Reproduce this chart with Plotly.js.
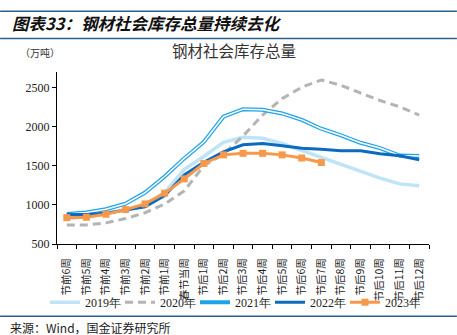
<!DOCTYPE html>
<html><head><meta charset="utf-8">
<script src="https://cdn.plot.ly/plotly-3.0.1.min.js"></script>
<style>html,body{margin:0;padding:0;background:#fff;}#c{width:457px;height:335px;}</style>
</head><body><div id="c"></div>
<script>
const categories = ['节前6周','节前5周','节前4周','节前3周','节前2周','节前1周','春节当周','节后1周','节后2周','节后3周','节后4周','节后5周','节后6周','节后7周','节后8周','节后9周','节后10周','节后11周','节后12周'];
const y2019 = [825, 848, 890, 945, 1000, 1160, 1455, 1620, 1800, 1865, 1852, 1785, 1696, 1606, 1521, 1436, 1342, 1269, 1244];
const y2020 = [744, 744, 770, 825, 900, 1010, 1180, 1500, 1650, 1880, 2150, 2360, 2505, 2598, 2530, 2430, 2335, 2255, 2148];
const y2021 = [885, 903, 945, 1015, 1158, 1363, 1595, 1805, 2128, 2225, 2218, 2170, 2088, 1974, 1890, 1795, 1727, 1632, 1625];
const y2022 = [876, 878, 893, 930, 975, 1120, 1385, 1545, 1680, 1769, 1786, 1756, 1726, 1713, 1692, 1692, 1654, 1628, 1577];
const y2023 = [837, 842, 881, 940, 1013, 1150, 1333, 1530, 1640, 1660, 1660, 1640, 1600, 1542];
const yTicks = [500, 1000, 1500, 2000, 2500];

const CJK = '"Noto Sans CJK SC", "Noto Sans", sans-serif';
const SERIF = '"Liberation Serif", "DejaVu Serif", serif';

const traces = [
  {x: categories, y: y2019, name: '2019年', mode: 'lines', line: {color: '#bfe4f8', width: 3.5}},
  {x: categories, y: y2020, name: '2020年', mode: 'lines', line: {color: '#b4b4b4', width: 3, dash: '8px,5px'}},
  {x: categories, y: y2021, name: '2021年', mode: 'lines', line: {color: '#1fa3e6', width: 4}},
  {x: categories, y: y2021, name: '2021年', mode: 'lines', line: {color: '#ffffff', width: 1.5}, showlegend: false, hoverinfo: 'skip'},
  {x: categories, y: y2022, name: '2022年', mode: 'lines', line: {color: '#0b6cbf', width: 3}},
  {x: categories.slice(0, y2023.length), y: y2023, name: '2023年', mode: 'lines+markers', line: {color: '#f7984a', width: 3}, marker: {symbol: 'square', size: 7, color: '#f7984a'}}
];

const layout = {
  width: 457, height: 335,
  margin: {l: 57, r: 28, t: 72, b: 91},
  paper_bgcolor: '#fff', plot_bgcolor: '#fff',
  showlegend: true,
  legend: {orientation: 'h', x: (45-57)/372, xanchor: 'left', y: (244-302)/171.5, yanchor: 'middle',
           font: {family: SERIF, size: 12, color: '#222'}, itemwidth: 30, entrywidth: 30, entrywidthmode: 'pixels',
           tracegroupgap: 0, bgcolor: 'rgba(0,0,0,0)'},
  xaxis: {type: 'category', tickangle: -90, tickson: 'boundaries', ticks: 'outside', ticklen: 4, tickcolor: '#000',
          showline: true, linecolor: '#000', linewidth: 1, showgrid: false, zeroline: false, ticklabelstandoff: 9,
          tickfont: {family: CJK, size: 10.5, color: '#222'}, range: [-0.5, 18.5]},
  yaxis: {range: [500, 2700], tickvals: yTicks, ticktext: yTicks.map(String), ticks: 'outside', ticklen: 4, tickcolor: '#000',
          showline: true, linecolor: '#000', linewidth: 1, showgrid: false, zeroline: false,
          tickfont: {family: SERIF, size: 12, color: '#222'}},
  shapes: [
    {type: 'line', xref: 'paper', yref: 'paper', x0: -0.153, x1: 1.075, y0: (244-12)/171.5, y1: (244-12)/171.5, line: {color: '#2b5f8c', width: 1.5}},
    {type: 'line', xref: 'paper', yref: 'paper', x0: -0.153, x1: 1.075, y0: (244-39)/171.5, y1: (244-39)/171.5, line: {color: '#2b5f8c', width: 1.5}},
    {type: 'line', xref: 'paper', yref: 'paper', x0: -0.153, x1: 1.075, y0: (244-316)/171.5, y1: (244-316)/171.5, line: {color: '#2b5f8c', width: 1.5}}
  ],
  annotations: [
    {text: '<b><i>图表33：钢材社会库存总量持续去化</i></b>', xref: 'paper', yref: 'paper', x: (10-57)/372, y: (244-24)/171.5, xanchor: 'left', yanchor: 'middle', showarrow: false, font: {family: CJK, size: 16.5, color: '#111'}},
    {text: '钢材社会库存总量', xref: 'paper', yref: 'paper', x: (234-57)/372, y: (244-51)/171.5, xanchor: 'center', yanchor: 'middle', showarrow: false, font: {family: CJK, size: 15.5, color: '#333'}},
    {text: '（万吨）', xref: 'paper', yref: 'paper', x: (40-57)/372, y: (244-53)/171.5, xanchor: 'center', yanchor: 'middle', showarrow: false, font: {family: CJK, size: 10, color: '#333'}},
    {text: '来源：Wind，国金证券研究所', xref: 'paper', yref: 'paper', x: (8-57)/372, y: (244-327)/171.5, xanchor: 'left', yanchor: 'middle', showarrow: false, font: {family: CJK, size: 12, color: '#222'}}
  ]
};

Plotly.newPlot('c', traces, layout, {displayModeBar: false, staticPlot: true});
</script></body></html>
